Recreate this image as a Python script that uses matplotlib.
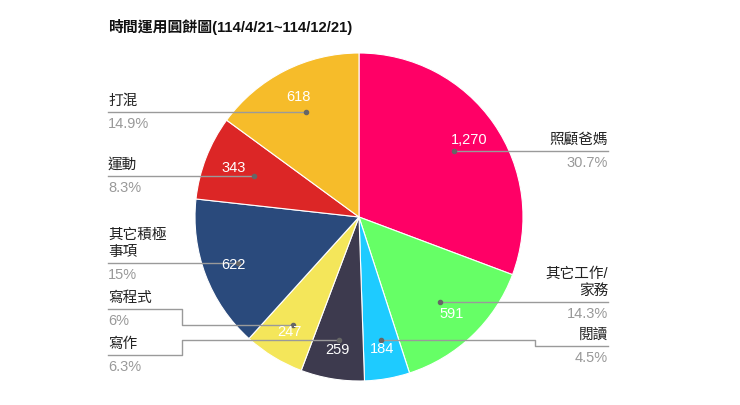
import numpy as np
import matplotlib
matplotlib.use('Agg')
import matplotlib.pyplot as plt

# Daten ------------------------------------------------------------------
categories = ['照顧爸媽', '其它工作/\n家務', '閱讀', '寫作', '寫程式', '其它積極\n事項', '運動', '打混']
values = [1270, 591, 184, 259, 247, 622, 343, 618]
colors = ['#FF0066', '#66FF66', '#1ECBFF', '#3D3A4E', '#F4E65A', '#2A4A7C', '#DC2626', '#F6BC2A']
title = '時間運用圓餅圖(114/4/21~114/12/21)'

plt.rcParams['font.family'] = ['Liberation Sans', 'Noto Sans CJK TC', 'DejaVu Sans']

W, H = 740, 405
def Y(py):  # Pixel-y von oben -> Datenkoordinate
    return H - py

fig = plt.figure(figsize=(7.4, 4.05), dpi=100)
ax = fig.add_axes([0, 0, 1, 1])
ax.axis('off')

cx, cy, R = 359, Y(217), 164
total = sum(values)

wedges, _, autotexts = ax.pie(
    values, colors=colors, startangle=90, counterclock=False,
    center=(cx, cy), radius=R, pctdistance=0.82,
    autopct=lambda p: f'{round(p * total / 100):,}',
    wedgeprops=dict(edgecolor='white', linewidth=0.8),
    textprops=dict(color='white', fontsize=10.5))
ax.set_xlim(0, W)
ax.set_ylim(0, H)
ax.set_aspect('equal')

def pct_text(v):
    s = f'{v / total * 100:.1f}'
    if s.endswith('.0'):
        s = s[:-2]
    return s + '%'

# Beschriftungs-Layout: Seite, Punkt-y, Linien-y, Knick-x (Pixel von oben)
layout = [
    ('right', 151, 151, None),
    ('right', 302, 302, None),
    ('right', 340, 346, 535),
    ('left', 340, 355, 182),
    ('left', 325, 309, 182),
    ('left', 263, 263, None),
    ('left', 176, 176, None),
    ('left', 112, 112, None),
]
line_col = '#9A9A9A'
for w, cat, v, (side, py, ly, ex) in zip(wedges, categories, values, layout):
    mid = np.deg2rad((w.theta1 + w.theta2) / 2)
    dy = Y(py)
    # Punkt auf dem Mittelstrahl des Segments
    r = (dy - cy) / np.sin(mid)
    dx = cx + r * np.cos(mid)
    end_x = 108 if side == 'left' else 608
    line_y = Y(ly)
    if ex is None:
        xs, ys = [dx, end_x], [dy, dy]
    else:
        xs, ys = [dx, ex, ex, end_x], [dy, dy, line_y, line_y]
    ax.plot(xs, ys, color=line_col, lw=1, zorder=3)
    ax.plot(dx, dy, 'o', color='#666666', ms=3, zorder=4)
    ha = 'left' if side == 'left' else 'right'
    ax.text(end_x, line_y + 4, cat, ha=ha, va='bottom', fontsize=10.5,
            color='#222222', linespacing=1.3)
    ax.text(end_x, line_y - 5, pct_text(v), ha=ha, va='top', fontsize=10.5,
            color='#999999')

for t in autotexts:
    t.set_zorder(5)

ax.text(108, Y(27), title, ha='left', va='center', fontsize=10.7,
        fontweight='bold', color='#111111')

fig.savefig('out.png', dpi=100)
